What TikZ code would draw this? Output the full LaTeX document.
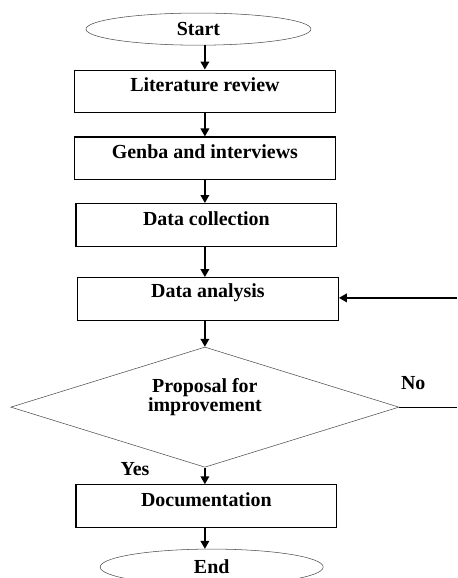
\documentclass[tikz,border=0pt]{standalone}
\usepackage{fontspec}
\setmainfont{Liberation Serif}
\usetikzlibrary{shapes.geometric,arrows.meta}

\begin{document}
\begin{tikzpicture}[
		font=\bfseries\fontsize{15}{17}\selectfont,
		terminal/.style={draw=black!70,ellipse,minimum width=5.95cm,minimum height=0.85cm,inner sep=0},
		stepbox/.style={draw,line width=0.9pt,rectangle,minimum width=6.9cm,minimum height=1.13cm,inner sep=0},
		boxtext/.style={yshift=0.17cm},
		decision/.style={draw=black!70,diamond,minimum width=10.27cm,minimum height=3.18cm,inner sep=0},
		flow/.style={line width=1.2pt,-{Triangle[length=6pt,width=6.5pt]}}
	]
		\clip (0,0) rectangle (12.09cm,-15.29cm);

		\coordinate (startpos) at (5.25cm,-0.77cm);
		\coordinate (litpos) at (5.42cm,-2.42cm);
		\coordinate (genbapos) at (5.42cm,-4.19cm);
		\coordinate (collectpos) at (5.46cm,-5.95cm);
		\coordinate (analysispos) at (5.5cm,-7.91cm);
		\coordinate (decidepos) at (5.42cm,-10.77cm);
		\coordinate (docpos) at (5.46cm,-13.39cm);
		\coordinate (endpos) at (5.6cm,-15.0cm);
		\coordinate (backin) at (12.09cm,-7.88cm);
		\coordinate (noout) at (12.09cm,-10.77cm);

		\node[terminal] (start) at (startpos) {Start};
		\node[stepbox,label={[boxtext]center:Literature review}] (lit) at (litpos) {};
		\node[stepbox,label={[boxtext]center:Genba and interviews}] (genba) at (genbapos) {};
		\node[stepbox,label={[boxtext]center:Data collection}] (collect) at (collectpos) {};
		\node[stepbox,label={[boxtext]center:Data analysis}] (analysis) at (analysispos) {};
		\node[decision,label={[align=center,yshift=0.27cm,font=\bfseries\fontsize{15}{13}\selectfont]center:Proposal for\\improvement}] (decide) at (decidepos) {};
		\node[stepbox,label={[boxtext]center:Documentation}] (doc) at (docpos) {};
		\node[terminal,minimum width=5.9cm,minimum height=0.95cm] (end) at (endpos) {End};

		\node (yes) at (3.57cm,-12.41cm) {Yes};
		\node (no) at (10.93cm,-10.13cm) {No};

		\draw[flow] (start.south -| lit) -- (lit.north);
		\draw[flow] (lit) -- (lit |- genba.north);
		\draw[flow] (genba) -- (genba |- collect.north);
		\draw[flow] (collect.south -| genba) -- (genba |- analysis.north);
		\draw[flow] (analysis.south -| genba) -- (decide.north);
		\draw[flow] (decide.south) -- (decide |- doc.north);
		\draw[flow] (doc.south -| decide) -- (decide |- end.north);
		\draw[flow] (backin) -- (analysis.east |- backin);
		\draw[line width=0.9pt] (decide.east) -- (noout);
	\end{tikzpicture}
\end{document}
